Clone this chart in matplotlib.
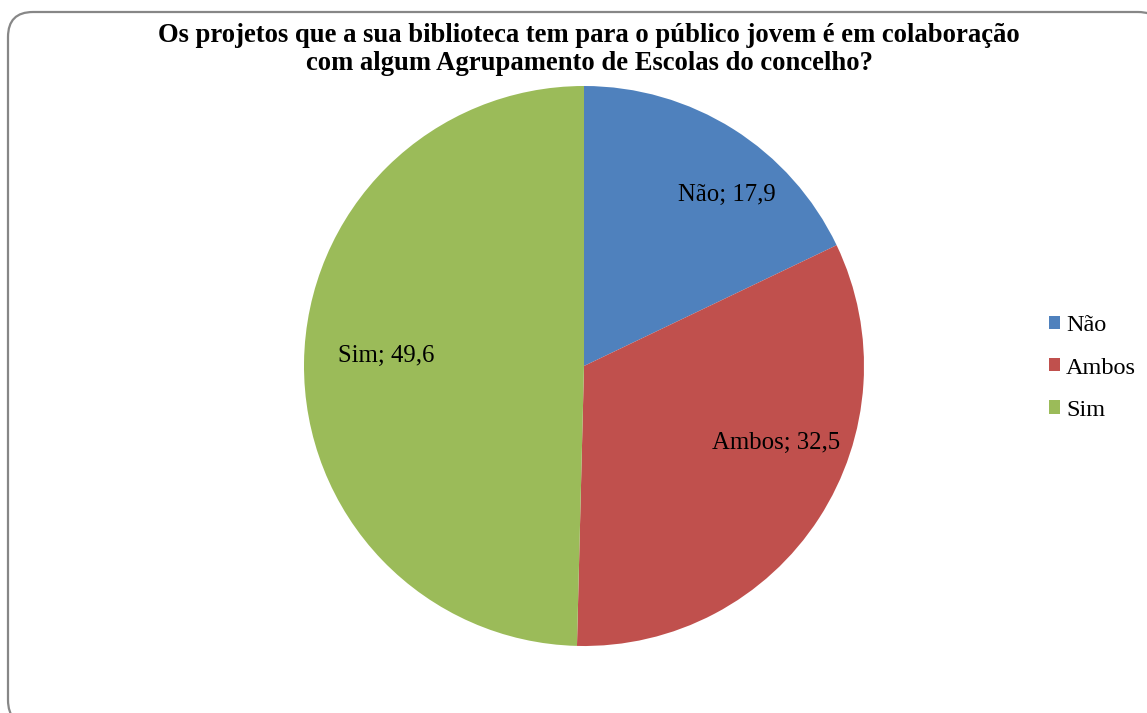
import matplotlib.pyplot as plt
from matplotlib.patches import FancyBboxPatch, Patch

plt.rcParams['font.family'] = ['Liberation Serif', 'DejaVu Serif']

# Dados
categorias = ["Não", "Ambos", "Sim"]
valores = [17.9, 32.5, 49.6]
rotulos = ["Não; 17,9", "Ambos; 32,5", "Sim; 49,6"]
cores = ["#4F81BD", "#C0504D", "#9BBB59"]

titulo = ("Os projetos que a sua biblioteca tem para o público jovem é em colaboração\n"
          "com algum Agrupamento de Escolas do concelho?")

W, H = 1147, 713
fig = plt.figure(figsize=(W / 100, H / 100), dpi=100)

# moldura arredondada (em polegadas para manter os cantos circulares)
moldura = FancyBboxPatch((0.08, -0.12), 11.55, 7.13, boxstyle="round,pad=0,rounding_size=0.25",
                         transform=fig.dpi_scale_trans, facecolor="white",
                         edgecolor="#878787", linewidth=1.6, zorder=-10)
fig.patches.append(moldura)

# eixo do gráfico: centro (584, 366) px, raio 280 px
cx, cy, r = 584, 366, 280
ax = fig.add_axes([(cx - r) / W, (H - cy - r) / H, 2 * r / W, 2 * r / H])
ax.pie(valores, colors=cores, startangle=90, counterclock=False, radius=1)
ax.set_xlim(-1, 1)
ax.set_ylim(-1, 1)
ax.set_aspect('equal')
ax.axis('off')

# posições dos rótulos (aprox. do original)
pos_rotulos = [(0.51, 0.61), (0.686, -0.275), (-0.707, 0.036)]
for txt, (x, y) in zip(rotulos, pos_rotulos):
    ax.text(x, y, txt, ha='center', va='center', fontsize=17.8, color='black')

fig.text(589 / W, 1 - 49.5 / H, titulo, ha='center', va='center', fontsize=19.2,
         fontweight='bold', linespacing=1.2)

handles = [Patch(facecolor=c, edgecolor='none') for c in cores]
fig.legend(handles, categorias, loc='center left', bbox_to_anchor=(1032 / W, 1 - 368 / H),
           frameon=False, fontsize=17.5, handlelength=0.45, handleheight=0.45,
           handletextpad=0.25, labelspacing=0.87, borderpad=0.2)

fig.savefig("out.png", dpi=100)
